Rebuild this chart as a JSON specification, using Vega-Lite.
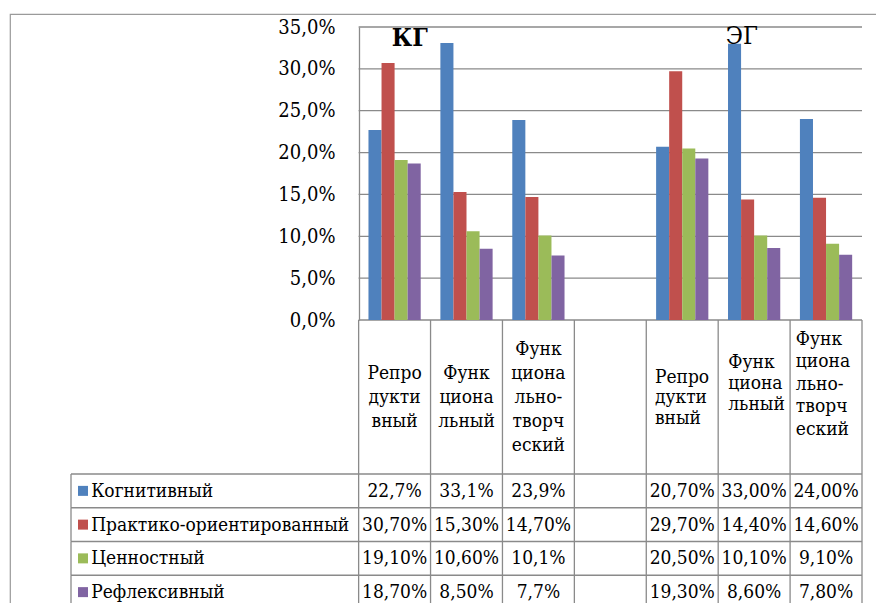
{
  "$schema": "https://vega.github.io/schema/vega-lite/v6.json",
  "width": 913,
  "height": 620,
  "autosize": {"type": "none"},
  "padding": {"left": 10, "top": 14, "right": 0, "bottom": 0},
  "background": "white",
  "view": {"stroke": "#9a9a9a", "strokeWidth": 1.2},
  "config": {"font": "DejaVu Serif Condensed, DejaVu Serif, serif", "text": {"font": "DejaVu Serif Condensed, DejaVu Serif, serif", "color": "black"}},
  "datasets": {
    "cats": [
      {"cat": "КГ Репродуктивный", "grp": "КГ", "head": "Репро\nдукти\nвный"},
      {"cat": "КГ Функциональный", "grp": "КГ", "head": "Функ\nциона\nльный"},
      {"cat": "КГ Функционально-творческий", "grp": "КГ", "head": "Функ\nциона\nльно-\nтворч\nеский"},
      {"cat": "пусто", "grp": "", "head": ""},
      {"cat": "ЭГ Репродуктивный", "grp": "ЭГ", "head": "Репро\nдукти\nвный"},
      {"cat": "ЭГ Функциональный", "grp": "ЭГ", "head": "Функ\nциона\nльный"},
      {"cat": "ЭГ Функционально-творческий", "grp": "ЭГ", "head": "Функ\nциона\nльно-\nтворч\nеский"}
    ],
    "series": [
      {"series": "Когнитивный"},
      {"series": "Практико-ориентированный"},
      {"series": "Ценностный"},
      {"series": "Рефлексивный"}
    ],
    "ticks": [{"v": 0}, {"v": 5}, {"v": 10}, {"v": 15}, {"v": 20}, {"v": 25}, {"v": 30}, {"v": 35}],
    "bars": [
      {"cat": "КГ Репродуктивный", "series": "Когнитивный", "value": 22.7, "label": "22,7%"},
      {"cat": "КГ Репродуктивный", "series": "Практико-ориентированный", "value": 30.7, "label": "30,70%"},
      {"cat": "КГ Репродуктивный", "series": "Ценностный", "value": 19.1, "label": "19,10%"},
      {"cat": "КГ Репродуктивный", "series": "Рефлексивный", "value": 18.7, "label": "18,70%"},
      {"cat": "КГ Функциональный", "series": "Когнитивный", "value": 33.1, "label": "33,1%"},
      {"cat": "КГ Функциональный", "series": "Практико-ориентированный", "value": 15.3, "label": "15,30%"},
      {"cat": "КГ Функциональный", "series": "Ценностный", "value": 10.6, "label": "10,60%"},
      {"cat": "КГ Функциональный", "series": "Рефлексивный", "value": 8.5, "label": "8,50%"},
      {"cat": "КГ Функционально-творческий", "series": "Когнитивный", "value": 23.9, "label": "23,9%"},
      {"cat": "КГ Функционально-творческий", "series": "Практико-ориентированный", "value": 14.7, "label": "14,70%"},
      {"cat": "КГ Функционально-творческий", "series": "Ценностный", "value": 10.1, "label": "10,1%"},
      {"cat": "КГ Функционально-творческий", "series": "Рефлексивный", "value": 7.7, "label": "7,7%"},
      {"cat": "ЭГ Репродуктивный", "series": "Когнитивный", "value": 20.7, "label": "20,70%"},
      {"cat": "ЭГ Репродуктивный", "series": "Практико-ориентированный", "value": 29.7, "label": "29,70%"},
      {"cat": "ЭГ Репродуктивный", "series": "Ценностный", "value": 20.5, "label": "20,50%"},
      {"cat": "ЭГ Репродуктивный", "series": "Рефлексивный", "value": 19.3, "label": "19,30%"},
      {"cat": "ЭГ Функциональный", "series": "Когнитивный", "value": 33.0, "label": "33,00%"},
      {"cat": "ЭГ Функциональный", "series": "Практико-ориентированный", "value": 14.4, "label": "14,40%"},
      {"cat": "ЭГ Функциональный", "series": "Ценностный", "value": 10.1, "label": "10,10%"},
      {"cat": "ЭГ Функциональный", "series": "Рефлексивный", "value": 8.6, "label": "8,60%"},
      {"cat": "ЭГ Функционально-творческий", "series": "Когнитивный", "value": 24.0, "label": "24,00%"},
      {"cat": "ЭГ Функционально-творческий", "series": "Практико-ориентированный", "value": 14.6, "label": "14,60%"},
      {"cat": "ЭГ Функционально-творческий", "series": "Ценностный", "value": 9.1, "label": "9,10%"},
      {"cat": "ЭГ Функционально-творческий", "series": "Рефлексивный", "value": 7.8, "label": "7,80%"}
    ]
  },
  "resolve": {"scale": {"y": "independent"}, "axis": {"y": "independent"}},
  "layer": [
    {
      "data": {"name": "ticks"},
      "mark": {"type": "rule", "stroke": "#8a8a8a", "strokeWidth": 1.3},
      "encoding": {
        "y": {"field": "v", "type": "quantitative", "scale": {"domain": [0, 35], "range": [306, 13], "nice": false, "zero": false}, "axis": null},
        "x": {"datum": "КГ Репродуктивный", "type": "nominal", "bandPosition": 0, "axis": null,
          "scale": {"type": "band", "domain": ["L1", "L2", "L3", "L4", "КГ Репродуктивный", "КГ Функциональный", "КГ Функционально-творческий", "пусто", "ЭГ Репродуктивный", "ЭГ Функциональный", "ЭГ Функционально-творческий"], "range": [61, 852], "paddingInner": 0, "paddingOuter": 0}},
        "x2": {"datum": "ЭГ Функционально-творческий", "bandPosition": 1}
      }
    },
    {
      "data": {"name": "bars"},
      "mark": {"type": "bar"},
      "encoding": {
        "x": {"field": "cat", "type": "nominal", "axis": null,
          "scale": {"type": "band", "domain": ["L1", "L2", "L3", "L4", "КГ Репродуктивный", "КГ Функциональный", "КГ Функционально-творческий", "пусто", "ЭГ Репродуктивный", "ЭГ Функциональный", "ЭГ Функционально-творческий"], "range": [61, 852], "paddingInner": 0, "paddingOuter": 0}},
        "xOffset": {"field": "series", "type": "nominal",
          "scale": {"domain": ["Когнитивный", "Практико-ориентированный", "Ценностный", "Рефлексивный"], "paddingInner": 0, "paddingOuter": 0.753}},
        "y": {"field": "value", "type": "quantitative",
          "scale": {"domain": [0, 35], "range": [306, 13], "nice": false, "zero": false},
          "axis": {"orient": "left", "offset": -349, "title": null, "grid": false, "ticks": false, "tickSize": 0,
            "domain": true, "domainColor": "#8a8a8a", "domainWidth": 1.3,
            "values": [0, 5, 10, 15, 20, 25, 30, 35],
            "labelExpr": "replace(format(datum.value, '.1f'), '.', ',') + '%'",
            "labelFont": "DejaVu Serif Condensed, DejaVu Serif, serif", "labelFontSize": 20, "labelColor": "black", "labelPadding": 24}},
        "color": {"field": "series", "type": "nominal", "legend": null,
          "scale": {"domain": ["Когнитивный", "Практико-ориентированный", "Ценностный", "Рефлексивный"], "range": ["#4F81BD", "#C0504D", "#9BBB59", "#8064A2"]}}
      }
    },
    {
      "data": {"name": "cats"},
      "mark": {"type": "rule", "stroke": "#8a8a8a", "strokeWidth": 1.3},
      "encoding": {
        "x": {"field": "cat", "type": "nominal", "bandPosition": 0, "axis": null},
        "y": {"datum": 0, "type": "quantitative", "scale": {"domain": [0, 35], "range": [306, 13], "nice": false, "zero": false}, "axis": null},
        "y2": {"datum": -40}
      }
    },
    {
      "data": {"name": "cats"},
      "transform": [{"filter": "datum.cat === 'ЭГ Функционально-творческий'"}],
      "mark": {"type": "rule", "stroke": "#8a8a8a", "strokeWidth": 1.3},
      "encoding": {
        "x": {"field": "cat", "type": "nominal", "bandPosition": 1, "axis": null},
        "y": {"datum": 0, "type": "quantitative", "scale": {"domain": [0, 35], "range": [306, 13], "nice": false, "zero": false}, "axis": null},
        "y2": {"datum": -40}
      }
    },
    {
      "data": {"name": "series"},
      "mark": {"type": "rule", "stroke": "#8a8a8a", "strokeWidth": 1.3},
      "encoding": {
        "y": {"field": "series", "type": "nominal", "bandPosition": 0, "axis": null,
          "scale": {"type": "band", "domain": ["Когнитивный", "Практико-ориентированный", "Ценностный", "Рефлексивный"], "range": [460, 595], "paddingInner": 0, "paddingOuter": 0}},
        "x": {"datum": "L1", "type": "nominal", "bandPosition": 0, "axis": null},
        "x2": {"datum": "ЭГ Функционально-творческий", "bandPosition": 1}
      }
    },
    {
      "data": {"name": "series"},
      "mark": {"type": "rule", "stroke": "#8a8a8a", "strokeWidth": 1.3},
      "encoding": {
        "y": {"field": "series", "type": "nominal", "bandPosition": 0, "axis": null,
          "scale": {"type": "band", "domain": ["Когнитивный", "Практико-ориентированный", "Ценностный", "Рефлексивный"], "range": [460, 595], "paddingInner": 0, "paddingOuter": 0}},
        "y2": {"field": "series", "bandPosition": 1},
        "x": {"datum": "L1", "type": "nominal", "bandPosition": 0, "axis": null}
      }
    },
    {
      "data": {"name": "series"},
      "mark": {"type": "square", "size": 100, "opacity": 1},
      "encoding": {
        "y": {"field": "series", "type": "nominal", "axis": null,
          "scale": {"type": "band", "domain": ["Когнитивный", "Практико-ориентированный", "Ценностный", "Рефлексивный"], "range": [460, 595], "paddingInner": 0, "paddingOuter": 0}},
        "x": {"datum": "L1", "type": "nominal", "bandPosition": 0.167, "axis": null},
        "color": {"field": "series", "type": "nominal", "legend": null}
      }
    },
    {
      "data": {"name": "series"},
      "mark": {"type": "text", "align": "left", "baseline": "middle", "fontSize": 19},
      "encoding": {
        "y": {"field": "series", "type": "nominal", "axis": null,
          "scale": {"type": "band", "domain": ["Когнитивный", "Практико-ориентированный", "Ценностный", "Рефлексивный"], "range": [460, 595], "paddingInner": 0, "paddingOuter": 0}},
        "x": {"datum": "L1", "type": "nominal", "bandPosition": 0.28, "axis": null},
        "text": {"field": "series"}
      }
    },
    {
      "data": {"name": "bars"},
      "mark": {"type": "text", "align": "center", "baseline": "middle", "fontSize": 19},
      "encoding": {
        "y": {"field": "series", "type": "nominal", "axis": null,
          "scale": {"type": "band", "domain": ["Когнитивный", "Практико-ориентированный", "Ценностный", "Рефлексивный"], "range": [460, 595], "paddingInner": 0, "paddingOuter": 0}},
        "x": {"field": "cat", "type": "nominal", "axis": null},
        "text": {"field": "label"}
      }
    },
    {
      "data": {"name": "cats"},
      "transform": [{"filter": "datum.grp === 'КГ' && datum.cat !== 'КГ Функционально-творческий'"}],
      "mark": {"type": "text", "align": "center", "baseline": "middle", "fontSize": 19, "lineBreak": "\n", "lineHeight": 24},
      "encoding": {
        "y": {"datum": "head", "type": "nominal", "bandPosition": 0.344, "axis": null,
          "scale": {"type": "band", "domain": ["head"], "range": [306, 460], "paddingInner": 0, "paddingOuter": 0}},
        "x": {"field": "cat", "type": "nominal", "axis": null},
        "text": {"field": "head"}
      }
    },
    {
      "data": {"name": "cats"},
      "transform": [{"filter": "datum.cat === 'КГ Функционально-творческий'"}],
      "mark": {"type": "text", "align": "center", "baseline": "middle", "fontSize": 19, "lineBreak": "\n", "lineHeight": 24},
      "encoding": {
        "y": {"datum": "head", "type": "nominal", "bandPosition": 0.188, "axis": null,
          "scale": {"type": "band", "domain": ["head"], "range": [306, 460], "paddingInner": 0, "paddingOuter": 0}},
        "x": {"field": "cat", "type": "nominal", "axis": null},
        "text": {"field": "head"}
      }
    },
    {
      "data": {"name": "cats"},
      "transform": [{"filter": "datum.cat === 'ЭГ Репродуктивный'"}],
      "mark": {"type": "text", "align": "left", "baseline": "middle", "fontSize": 19, "lineBreak": "\n", "lineHeight": 20.5},
      "encoding": {
        "y": {"datum": "head", "type": "nominal", "bandPosition": 0.37, "axis": null,
          "scale": {"type": "band", "domain": ["head"], "range": [306, 460], "paddingInner": 0, "paddingOuter": 0}},
        "x": {"field": "cat", "type": "nominal", "bandPosition": 0.12, "axis": null},
        "text": {"field": "head"}
      }
    },
    {
      "data": {"name": "cats"},
      "transform": [{"filter": "datum.cat === 'ЭГ Функциональный'"}],
      "mark": {"type": "text", "align": "left", "baseline": "middle", "fontSize": 19, "lineBreak": "\n", "lineHeight": 21},
      "encoding": {
        "y": {"datum": "head", "type": "nominal", "bandPosition": 0.273, "axis": null,
          "scale": {"type": "band", "domain": ["head"], "range": [306, 460], "paddingInner": 0, "paddingOuter": 0}},
        "x": {"field": "cat", "type": "nominal", "bandPosition": 0.14, "axis": null},
        "text": {"field": "head"}
      }
    },
    {
      "data": {"name": "cats"},
      "transform": [{"filter": "datum.cat === 'ЭГ Функционально-творческий'"}],
      "mark": {"type": "text", "align": "left", "baseline": "middle", "fontSize": 19, "lineBreak": "\n", "lineHeight": 22.5},
      "encoding": {
        "y": {"datum": "head", "type": "nominal", "bandPosition": 0.123, "axis": null,
          "scale": {"type": "band", "domain": ["head"], "range": [306, 460], "paddingInner": 0, "paddingOuter": 0}},
        "x": {"field": "cat", "type": "nominal", "bandPosition": 0.08, "axis": null},
        "text": {"field": "head"}
      }
    },
    {
      "data": {"name": "cats"},
      "transform": [{"filter": "datum.cat === 'КГ Репродуктивный'"}],
      "mark": {"type": "text", "text": "КГ", "align": "center", "baseline": "alphabetic", "fontSize": 25, "fontWeight": "bold", "dy": 19},
      "encoding": {
        "y": {"datum": 35, "type": "quantitative", "axis": null, "scale": {"domain": [0, 35], "range": [306, 13], "nice": false, "zero": false}},
        "x": {"field": "cat", "type": "nominal", "bandPosition": 0.71, "axis": null}
      }
    },
    {
      "data": {"name": "cats"},
      "transform": [{"filter": "datum.cat === 'ЭГ Функциональный'"}],
      "mark": {"type": "text", "text": "ЭГ", "align": "center", "baseline": "alphabetic", "fontSize": 25, "dy": 17},
      "encoding": {
        "y": {"datum": 35, "type": "quantitative", "axis": null, "scale": {"domain": [0, 35], "range": [306, 13], "nice": false, "zero": false}},
        "x": {"field": "cat", "type": "nominal", "bandPosition": 0.33, "axis": null}
      }
    }
  ]
}
